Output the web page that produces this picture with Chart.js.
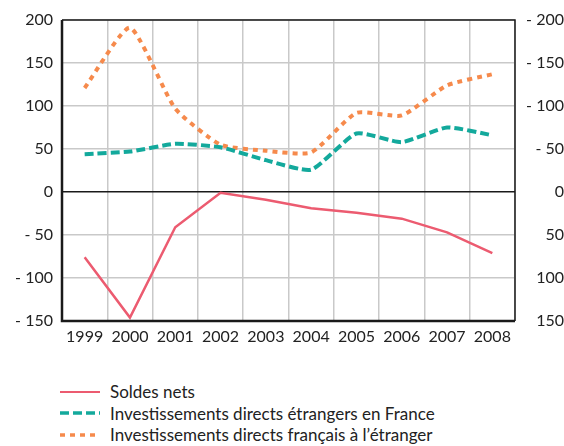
<!DOCTYPE html>
<html>
<head>
<meta charset="utf-8">
<script src="https://cdn.jsdelivr.net/npm/chart.js@4"></script>
<style>
  body { margin: 0; background: #fff; }
  #wrap { position: relative; width: 564px; height: 446px; }
  #chart-box { position: absolute; left: 0; top: 0; width: 564px; height: 350px; }
  #legend { position: absolute; left: 60px; top: 381px; font-family: Lato, "Open Sans", sans-serif; font-size: 17px; color: #222; }
  .leg-row { display: flex; align-items: center; height: 21.6px; }
  .leg-row svg { margin-right: 10px; }
</style>
</head>
<body>
<div id="wrap">
  <div id="chart-box"><canvas id="chart"></canvas></div>
  <div id="legend"></div>
</div>
<script>
// Years on the x axis
const years = ['1999', '2000', '2001', '2002', '2003', '2004', '2005', '2006', '2007', '2008'];

// Series values
const soldesNets = [-76, -146, -41, -1, -9, -19, -24, -31, -47, -71];
const ideEnFrance = [44, 47, 56, 52, 37, 26, 68, 58, 75, 66];
const idfEtranger = [121, 191, 97, 55, 48, 46, 92, 89, 124, 137];

// Tick values on the y axes
const yTicks = [200, 150, 100, 50, 0, -50, -100, -150];

const seriesNames = [
    'Soldes nets',
    'Investissements directs étrangers en France',
    'Investissements directs français à l’étranger'
];

const fontFamily = 'Lato, "Open Sans", sans-serif';

// left axis: "- 50", right axis has the signs flipped ("- 200" up top, "150" at the bottom)
function leftLabel(v) {
    return v < 0 ? '- ' + (-v) : String(v);
}
function rightLabel(v) {
    return v > 0 ? '- ' + v : String(-v);
}

// plot frame: thick left/bottom, thinner top/right
const framePlugin = {
    id: 'frame',
    afterDatasetsDraw(chart) {
        const { ctx, chartArea: a } = chart;
        ctx.save();
        ctx.strokeStyle = '#1a1a1a';
        ctx.lineWidth = 1.5;
        ctx.beginPath();
        ctx.moveTo(a.left, a.top);
        ctx.lineTo(a.right, a.top);
        ctx.lineTo(a.right, a.bottom);
        ctx.stroke();
        ctx.lineWidth = 2.5;
        ctx.beginPath();
        ctx.moveTo(a.left, a.top);
        ctx.lineTo(a.left, a.bottom);
        ctx.lineTo(a.right, a.bottom);
        ctx.stroke();
        ctx.restore();
    }
};

const ctx = document.getElementById('chart').getContext('2d');
const chart = new Chart(ctx, {
    type: 'line',
    data: {
        labels: years,
        datasets: [
            {
                label: seriesNames[0],
                data: soldesNets,
                borderColor: '#ec5b70',
                borderWidth: 2.5,
                tension: 0,
                pointRadius: 0,
                fill: false
            },
            {
                label: seriesNames[1],
                data: ideEnFrance,
                borderColor: '#13a99c',
                borderWidth: 4,
                borderDash: [9, 4],
                tension: 0.18,
                pointRadius: 0,
                fill: false
            },
            {
                label: seriesNames[2],
                data: idfEtranger,
                borderColor: '#f68a4c',
                borderWidth: 4,
                borderDash: [5, 5],
                tension: 0.18,
                pointRadius: 0,
                fill: false
            }
        ]
    },
    options: {
        responsive: true,
        maintainAspectRatio: false,
        animation: false,
        layout: { padding: { top: 20, left: 0, right: 0, bottom: 0 } },
        plugins: {
            legend: { display: false },
            tooltip: { enabled: false }
        },
        scales: {
            x: {
                offset: true,
                grid: {
                    offset: true,
                    color: '#c9c9c9',
                    lineWidth: 1.5,
                    drawTicks: false
                },
                border: { display: false },
                ticks: {
                    color: '#222',
                    font: { family: fontFamily, size: 16 },
                    padding: 6,
                    maxRotation: 0,
                    autoSkip: false
                },
                afterFit(scale) { scale.height = 29; }
            },
            y: {
                position: 'left',
                min: -150,
                max: 200,
                afterBuildTicks(scale) { scale.ticks = yTicks.map(v => ({ value: v })); },
                grid: {
                    color: ctx => ctx.tick && ctx.tick.value === 0 ? '#1a1a1a' : '#c9c9c9',
                    lineWidth: 1.5,
                    drawTicks: false
                },
                border: { display: false },
                ticks: {
                    color: '#222',
                    font: { family: fontFamily, size: 16 },
                    padding: 9,
                    callback: v => leftLabel(v)
                },
                afterFit(scale) { scale.width = 62; }
            },
            y2: {
                position: 'right',
                min: -150,
                max: 200,
                afterBuildTicks(scale) { scale.ticks = yTicks.map(v => ({ value: v })); },
                grid: { display: false, drawTicks: false },
                border: { display: false },
                ticks: {
                    color: '#222',
                    font: { family: fontFamily, size: 16 },
                    crossAlign: 'far',
                    padding: 6,
                    callback: v => rightLabel(v)
                },
                afterFit(scale) { scale.width = 49; }
            }
        }
    },
    plugins: [framePlugin]
});

// HTML legend, stacked vertically under the chart
const legendEl = document.getElementById('legend');
chart.data.datasets.forEach(ds => {
    const row = document.createElement('div');
    row.className = 'leg-row';
    const dash = ds.borderDash ? ds.borderDash.join(' ') : 'none';
    row.innerHTML = `
        <svg width="40" height="8"><line x1="0" y1="4" x2="40" y2="4" stroke="${ds.borderColor}"
            stroke-width="${ds.borderDash ? 3.5 : 2}" stroke-dasharray="${dash}"/></svg>
        <span>${ds.label}</span>`;
    legendEl.appendChild(row);
});
</script>
</body>
</html>
